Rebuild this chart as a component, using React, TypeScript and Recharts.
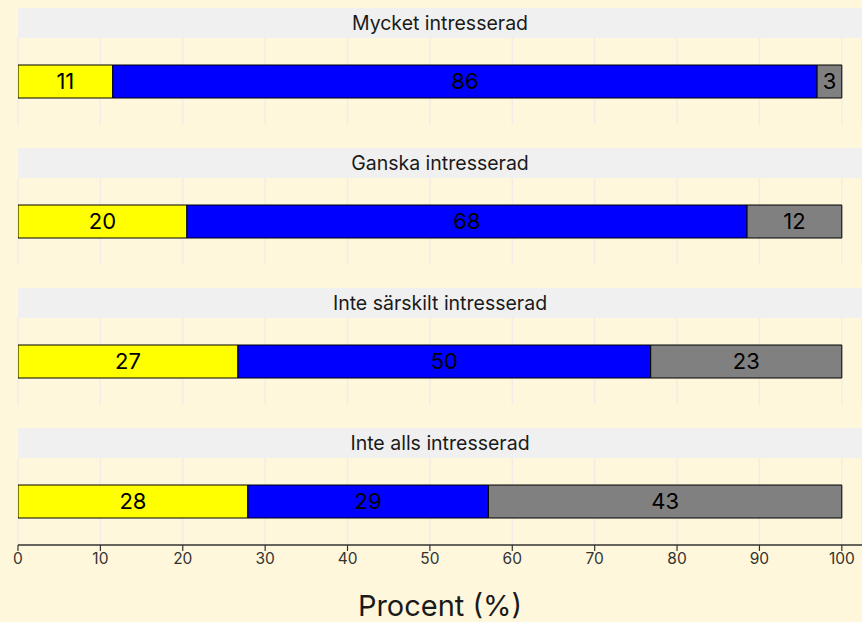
import React from "react";
import { BarChart, Bar, XAxis, YAxis, CartesianGrid, LabelList } from "recharts";

const panels = ["Mycket intresserad", "Ganska intresserad", "Inte särskilt intresserad", "Inte alls intresserad"];
const yellowValues = [11.5, 20.5, 26.7, 27.9];
const blueValues = [85.5, 68.0, 50.1, 29.2];
const grayValues = [3.0, 11.5, 23.2, 42.9];
const yellowLabels = ["11", "20", "27", "28"];
const blueLabels = ["86", "68", "50", "29"];
const grayLabels = ["3", "12", "23", "43"];
const xTicks = [0, 10, 20, 30, 40, 50, 60, 70, 80, 90, 100];
const xTitle = "Procent (%)";

const FONT = "Inter, 'Liberation Sans', Arial, sans-serif";
const W = 862;
const LEFT = 18;
const PERIOD = 140;
const STRIP_TOP = 8;
const STRIP_H = 30;
const PANEL_H = 87;
const AXIS_H = 32;

function Panel({ i }: { i: number }) {
  const last = i === panels.length - 1;
  const data = [
    {
      cat: panels[i],
      y: yellowValues[i],
      b: blueValues[i],
      g: grayValues[i],
      yl: yellowLabels[i],
      bl: blueLabels[i],
      gl: grayLabels[i],
    },
  ];
  const top = STRIP_TOP + i * PERIOD;
  const labelStyle = { fill: "#000", fontSize: 22, fontFamily: FONT };
  return (
    <>
      <div
        style={{
          position: "absolute",
          left: LEFT,
          top,
          width: W - LEFT,
          height: STRIP_H,
          background: "#F0F0F0",
          display: "flex",
          alignItems: "center",
          justifyContent: "center",
          fontFamily: FONT,
          fontSize: 19.5,
          color: "#1a1a1a",
        }}
      >
        {panels[i]}
      </div>
      <div style={{ position: "absolute", left: 0, top: top + STRIP_H }}>
        <BarChart
          width={W}
          height={PANEL_H + (last ? AXIS_H : 0)}
          data={data}
          layout="vertical"
          margin={{ top: 0, right: 0, bottom: 0, left: LEFT }}
          barSize={33}
        >
          <CartesianGrid horizontal={false} stroke="#F1EDE6" strokeWidth={1.5} />
          <XAxis
            type="number"
            domain={[0, 102.45]}
            allowDataOverflow
            ticks={xTicks}
            hide={!last}
            height={AXIS_H}
            axisLine={{ stroke: "#333", strokeWidth: 1.5 }}
            tickLine={{ stroke: "#333", strokeWidth: 1.2 }}
            tickSize={6}
            tick={{ fill: "#333", fontSize: 15.5, fontFamily: FONT }}
          />
          <YAxis
            type="category"
            dataKey="cat"
            width={0}
            tick={false}
            tickLine={false}
            axisLine={{ stroke: "#333", strokeWidth: 1.5 }}
          />
          <Bar dataKey="y" stackId="s" fill="#FFFF00" stroke="#000" strokeWidth={1} isAnimationActive={false}>
            <LabelList dataKey="yl" position="center" style={labelStyle} />
          </Bar>
          <Bar dataKey="b" stackId="s" fill="#0000FF" stroke="#000" strokeWidth={1} isAnimationActive={false}>
            <LabelList dataKey="bl" position="center" style={labelStyle} />
          </Bar>
          <Bar dataKey="g" stackId="s" fill="#808080" stroke="#000" strokeWidth={1} isAnimationActive={false}>
            <LabelList dataKey="gl" position="center" style={labelStyle} />
          </Bar>
        </BarChart>
      </div>
    </>
  );
}

export default function App() {
  return (
    <div
      style={{
        position: "absolute",
        left: 0,
        top: 0,
        width: W,
        height: 622,
        background: "#FFF7DC",
        overflow: "hidden",
      }}
    >
      {panels.map((_, i) => (
        <Panel key={i} i={i} />
      ))}
      <div
        style={{
          position: "absolute",
          left: LEFT,
          width: W - LEFT,
          top: 588,
          lineHeight: "36px",
          textAlign: "center",
          fontFamily: FONT,
          fontSize: 29,
          color: "#1a1a1a",
        }}
      >
        {xTitle}
      </div>
    </div>
  );
}
